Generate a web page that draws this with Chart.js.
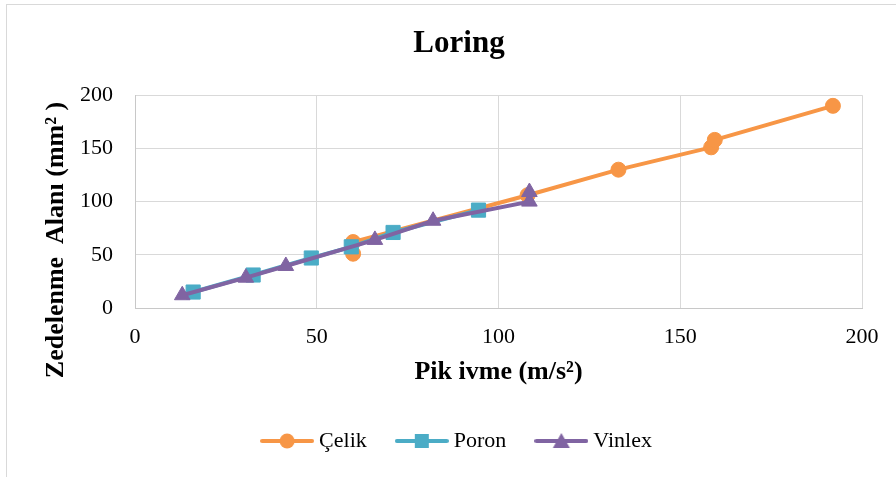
<!DOCTYPE html>
<html>
<head>
<meta charset="utf-8">
<script src="https://cdn.jsdelivr.net/npm/chart.js@4/dist/chart.umd.min.js"></script>
<style>
    body { margin: 0; background: #fff; }
    #wrap { position: relative; width: 896px; height: 477px; overflow: hidden; }
    #frame {
        position: absolute; left: 6px; top: 4px; width: 900px; height: 480px;
        border-top: 1px solid #d9d9d9; border-left: 1px solid #d9d9d9;
        pointer-events: none;
    }
    canvas { position: absolute; left: 0; top: 0; }
</style>
</head>
<body>
<div id="wrap">
    <canvas id="loringChart" width="896" height="477"></canvas>
    <div id="frame"></div>
</div>
<script>
// Değerler
const celikX = [60, 60, 108, 133, 158.5, 159.5, 192];
const celikY = [51, 62, 106, 130, 151, 158, 190];
const poronX = [16, 32.5, 48.5, 59.5, 71, 94.5];
const poronY = [15, 31, 47, 57.5, 71, 92];
const vinlexX = [13, 30.5, 41.5, 66, 82, 108.5, 108.5];
const vinlexY = [12, 28.5, 39.5, 64, 82, 100, 109];
const xTicks = [0, 50, 100, 150, 200];
const yTicks = [0, 50, 100, 150, 200];

const seriesNames = ["Çelik", "Poron", "Vinlex"];
const seriesColors = ["#F79646", "#4BACC6", "#8064A2"];
const seriesStyles = ["circle", "rect", "triangle"];

const FONT = "'Liberation Serif', 'Times New Roman', serif";

function toPoints(xs, ys) {
    return xs.map((x, i) => ({ x: x, y: ys[i] }));
}

// Lejant için çizgi + işaretçi simgesi
function legendIcon(color, style) {
    const c = document.createElement("canvas");
    c.width = 54;
    c.height = 20;
    const g = c.getContext("2d");
    g.strokeStyle = color;
    g.fillStyle = color;
    g.lineWidth = 4;
    g.lineCap = "round";
    g.beginPath();
    g.moveTo(2, 10);
    g.lineTo(52, 10);
    g.stroke();
    g.beginPath();
    if (style === "circle") {
        g.arc(27, 10, 7.5, 0, Math.PI * 2);
    } else if (style === "rect") {
        g.rect(20, 3, 14, 14);
    } else {
        g.moveTo(27, 2);
        g.lineTo(35.5, 17);
        g.lineTo(18.5, 17);
        g.closePath();
    }
    g.fill();
    return c;
}
const legendIcons = seriesStyles.map((s, i) => legendIcon(seriesColors[i], s));

const yTitlePlugin = {
    id: "yTitle",
    afterDraw(chart) {
        const ctx = chart.ctx;
        ctx.save();
        ctx.translate(56, 240);
        ctx.rotate(-Math.PI / 2);
        ctx.font = "bold 26px " + FONT;
        ctx.fillStyle = "#000";
        ctx.textAlign = "center";
        ctx.textBaseline = "middle";
        ctx.fillText("Zedelenme  Alanı (mm² )", 0, 0);
        ctx.restore();
    },
};

function dataset(i, xs, ys, radius, order) {
    return {
        label: seriesNames[i],
        data: toPoints(xs, ys),
        showLine: true,
        borderColor: seriesColors[i],
        backgroundColor: seriesColors[i],
        borderWidth: 4,
        pointStyle: seriesStyles[i],
        pointRadius: radius,
        pointBorderWidth: 1,
        pointBackgroundColor: seriesColors[i],
        pointBorderColor: seriesColors[i],
        order: order,
    };
}

new Chart(document.getElementById("loringChart"), {
    type: "scatter",
    data: {
        datasets: [
            dataset(0, celikX, celikY, 7.5, 3),
            dataset(1, poronX, poronY, 10, 2),
            dataset(2, vinlexX, vinlexY, 9, 1),
        ],
    },
    plugins: [yTitlePlugin],
    options: {
        responsive: false,
        animation: false,
        events: [],
        layout: { padding: { left: 22, right: 0, top: 0, bottom: 15 } },
        plugins: {
            title: {
                display: true,
                text: "Loring",
                color: "#000",
                font: { family: FONT, size: 31, weight: "bold" },
                padding: { top: 25, bottom: 33 },
            },
            legend: {
                position: "bottom",
                labels: {
                    color: "#000",
                    font: { family: FONT, size: 22 },
                    usePointStyle: true,
                    pointStyleWidth: 42,
                    padding: 34,
                    generateLabels: (chart) =>
                        chart.data.datasets.map((ds, i) => ({
                            text: ds.label,
                            fillStyle: ds.backgroundColor,
                            strokeStyle: ds.borderColor,
                            lineWidth: 0,
                            pointStyle: legendIcons[i],
                            hidden: false,
                            datasetIndex: i,
                        })),
                },
            },
            tooltip: { enabled: false },
        },
        scales: {
            x: {
                type: "linear",
                min: 0,
                max: 200,
                afterBuildTicks: (s) => { s.ticks = xTicks.map((v) => ({ value: v })); },
                afterFit: (s) => { s.height = 88; s.paddingRight = 34; },
                ticks: {
                    color: "#000",
                    padding: 16,
                    font: { family: FONT, size: 22 },
                },
                grid: { color: "#d9d9d9", lineWidth: 1, drawTicks: false },
                border: { color: "#c8c8c8", width: 1 },
                title: {
                    display: true,
                    text: "Pik ivme (m/s²)",
                    color: "#000",
                    font: { family: FONT, size: 26, weight: "bold" },
                    padding: { top: 0, bottom: 8 },
                },
            },
            y: {
                type: "linear",
                min: 0,
                max: 200,
                afterBuildTicks: (s) => { s.ticks = yTicks.map((v) => ({ value: v })); },
                afterFit: (s) => { s.width = 113; },
                ticks: {
                    color: "#000",
                    padding: 22,
                    font: { family: FONT, size: 22 },
                },
                grid: { color: "#d9d9d9", lineWidth: 1, drawTicks: false },
                border: { color: "#c8c8c8", width: 1 },
            },
        },
    },
});
</script>
</body>
</html>
